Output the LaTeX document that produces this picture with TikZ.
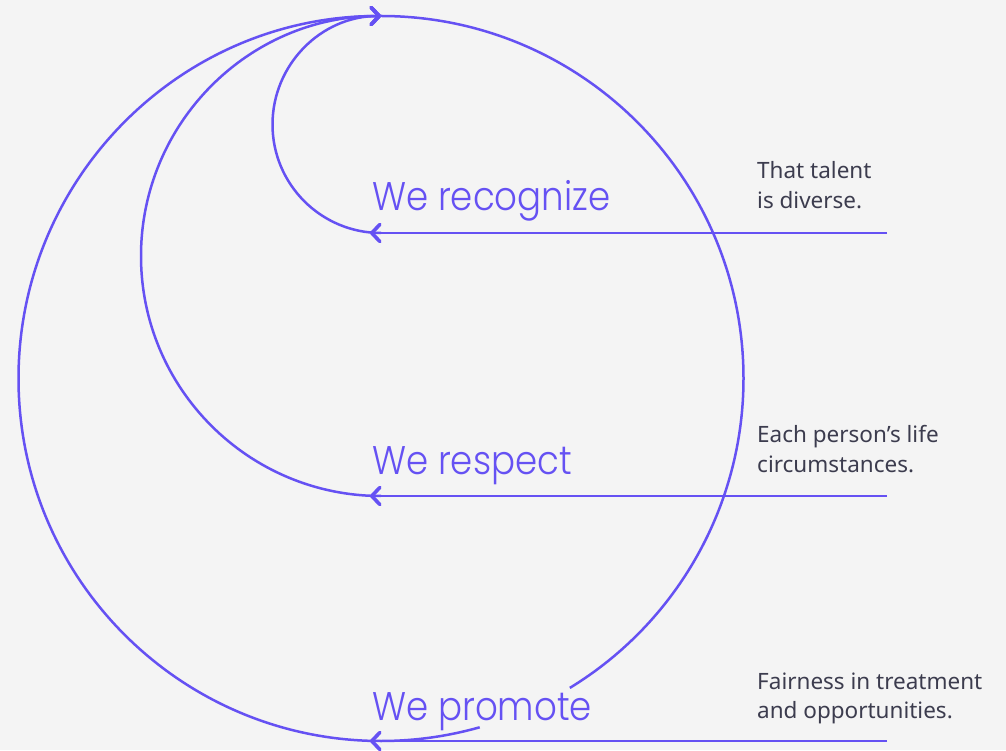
\documentclass[tikz,border=0pt]{standalone}
\usepackage{fontspec}
\usetikzlibrary{arrows.meta,calc}
\setmainfont{Noto Sans}
\newfontfamily\headfont{Poppins}[UprightFont={* Light},FakeStretch=0.89]
\definecolor{bgcol}{HTML}{F4F4F4}
\definecolor{violet}{HTML}{6551F3}
\definecolor{bodyink}{HTML}{3C3C4E}
\tikzset{
  flow/.style={draw=violet, line width=2.5pt},
  tip/.style={-{Straight Barb[length=8pt,width=17pt,line width=3.6pt,round]}},
  headline/.style={anchor=base west, inner sep=0pt, text=violet,
    font=\headfont\fontsize{40}{40}\selectfont},
  note/.style={anchor=base west, inner sep=0pt, text=bodyink,
    font=\fontsize{22.5}{29.5}\selectfont}
}
\begin{document}
\begin{tikzpicture}[x=1pt,y=1pt]
  \fill[bgcol] (0,0) rectangle (1006,750);
  \useasboundingbox (0,0) rectangle (1006,750);

  % meeting point at the top and the three line ends
  \coordinate (top) at (381,734);
  \coordinate (endA) at (381,517);
  \coordinate (endB) at (381,254);
  \coordinate (endC) at (381,9);
  \coordinate (startA) at (887,517);
  \coordinate (startB) at (887,254);
  \coordinate (startC) at (887,9);
  \coordinate (tipA) at (370,517);
  \coordinate (tipB) at (370,254);
  \coordinate (tipC) at (370,9);

  % horizontal lines from the right
  \draw[flow,tip] (startA) -- (tipA);
  \draw[flow,tip] (startB) -- (tipB);
  \draw[flow,tip] (startC) -- (tipC);

  % loops back up to the top
  \draw[flow,tip] (endA) arc[start angle=270, end angle=90, radius=108.5];
  \draw[flow,tip] (endB) arc[start angle=270, end angle=90, radius=240];
  \draw[flow,tip] (endC) arc[start angle=270, end angle=90, radius=362.5];

  % the big circle's right side, broken by the last headline
  \coordinate (ctr) at (381,371.5);
  \coordinate (resume) at ($(ctr)+(-74.2:362.5)$);
  \draw[flow] (top) arc[start angle=90, end angle=-58.6, radius=362.5];
  \draw[flow] (resume) arc[start angle=-74.2, end angle=-90, radius=362.5];

  % headlines
  \node[headline] (hA) at (372,539) {We recognize};
  \node[headline] (hB) at (372,275) {We respect};
  \node[headline] (hC) at (372,30) {We promote};

  % notes
  \node[note] (nA) at (757,571) {\parbox[t]{240pt}{\raggedright That talent\\is diverse.}};
  \node[note] (nB) at (757,307) {\parbox[t]{240pt}{\raggedright Each person’s life\\circumstances.}};
  \node[note] (nC) at (757,61) {\parbox[t]{240pt}{\raggedright Fairness in treatment\\and opportunities.}};
\end{tikzpicture}
\end{document}
